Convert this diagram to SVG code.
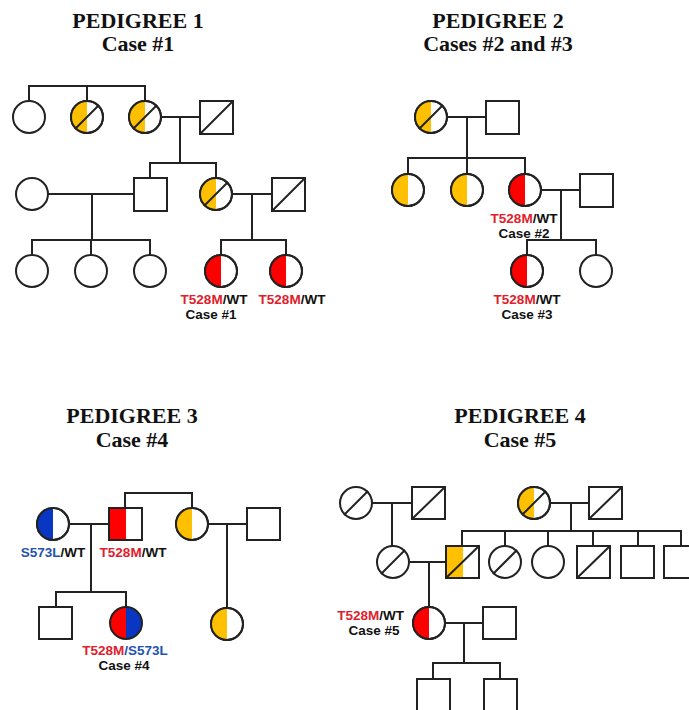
<svg xmlns="http://www.w3.org/2000/svg" width="689" height="710" viewBox="0 0 689 710">
<style>
.bg{fill:#ffffff}
.ln{fill:none;stroke:#222;stroke-width:2}
.sh{fill:#ffffff;stroke:#222;stroke-width:2}
.out{fill:none;stroke:#222;stroke-width:2}
.y{fill:#FFC000}
.r{fill:#FF0000}
.b{fill:#0A36C4}
.title{font-family:"Liberation Serif",serif;font-weight:bold;font-size:22px;fill:#111;text-anchor:middle}
.lab{font-family:"Liberation Sans",Arial,sans-serif;font-weight:bold;font-size:13.5px;fill:#111;text-anchor:middle}
.tr{fill:#E0202C}
.tb{fill:#2452B0}
</style>
<rect class="bg" x="0" y="0" width="689" height="710"/>

<g id="titles">
<text class="title" x="138" y="28">PEDIGREE 1</text>
<text class="title" x="138" y="51">Case #1</text>
<text class="title" x="498" y="28">PEDIGREE 2</text>
<text class="title" x="498" y="51">Cases #2 and #3</text>
<text class="title" x="132" y="423">PEDIGREE 3</text>
<text class="title" x="132" y="447">Case #4</text>
<text class="title" x="520" y="423">PEDIGREE 4</text>
<text class="title" x="520" y="447">Case #5</text>
</g>

<g id="connectors">
<path class="ln" d="M29 101V86H145V101M87 86V101"/>
<path class="ln" d="M161 117H200M180 117V163M150 178V163H216V178"/>
<path class="ln" d="M48 194H134M92 194V240M32 255V240H150V255M91 240V255"/>
<path class="ln" d="M232 194H272M252 194V240M221 255V240H286V255"/>
<path class="ln" d="M447 117H486M467 117V174M408 174V158H525V174"/>
<path class="ln" d="M541 190H580M561 190V240M527 255V240H596V255"/>
<path class="ln" d="M69 524H109M91 524V592M56 607V592H126V607"/>
<path class="ln" d="M125 508V493H192V508"/>
<path class="ln" d="M208 524H247M227 524V608"/>
<path class="ln" d="M372 503H412M392 503V546"/>
<path class="ln" d="M550 503H589M571 503V531M462 546V531H681V546M505 531V546M548 531V546M593 531V546M638 531V546"/>
<path class="ln" d="M409 562H446M429 562V607"/>
<path class="ln" d="M445 623H483M464 623V663M433 679V663H500V679"/>
</g>

<g id="p1-gen1-f1"><circle class="sh" cx="29" cy="117" r="16"/></g>
<g id="p1-gen1-f2"><circle class="sh" cx="87" cy="117" r="16"/><path class="y" d="M87 101A16 16 0 0 0 87 133Z"/><circle class="out" cx="87" cy="117" r="16"/><path class="ln" d="M75 129L99 105"/></g>
<g id="p1-gen1-f3"><circle class="sh" cx="145" cy="117" r="16"/><path class="y" d="M145 101A16 16 0 0 0 145 133Z"/><circle class="out" cx="145" cy="117" r="16"/><path class="ln" d="M133 129L157 105"/></g>
<g id="p1-gen1-m"><rect class="sh" x="200" y="101" width="33" height="33"/><path class="ln" d="M200 134L233 101"/></g>
<g id="p1-gen2-f1"><circle class="sh" cx="32" cy="194" r="16"/></g>
<g id="p1-gen2-m1"><rect class="sh" x="134" y="178" width="33" height="33"/></g>
<g id="p1-gen2-f2"><circle class="sh" cx="216" cy="194" r="16"/><path class="y" d="M216 178A16 16 0 0 0 216 210Z"/><circle class="out" cx="216" cy="194" r="16"/><path class="ln" d="M204 206L228 182"/></g>
<g id="p1-gen2-m2"><rect class="sh" x="272" y="178" width="33" height="33"/><path class="ln" d="M272 211L305 178"/></g>
<g id="p1-gen3-f1"><circle class="sh" cx="32" cy="271" r="16"/></g>
<g id="p1-gen3-f2"><circle class="sh" cx="91" cy="271" r="16"/></g>
<g id="p1-gen3-f3"><circle class="sh" cx="150" cy="271" r="16"/></g>
<g id="p1-gen3-f4"><circle class="sh" cx="221" cy="271" r="16"/><path class="r" d="M221 255A16 16 0 0 0 221 287Z"/><circle class="out" cx="221" cy="271" r="16"/>
<text class="lab" x="214" y="304"><tspan class="tr">T528M</tspan>/WT</text>
<text class="lab" x="211" y="319">Case #1</text></g>
<g id="p1-gen3-f5"><circle class="sh" cx="286" cy="271" r="16"/><path class="r" d="M286 255A16 16 0 0 0 286 287Z"/><circle class="out" cx="286" cy="271" r="16"/>
<text class="lab" x="292" y="304"><tspan class="tr">T528M</tspan>/WT</text></g>

<g id="p2-gen1-f"><circle class="sh" cx="431" cy="117" r="16"/><path class="y" d="M431 101A16 16 0 0 0 431 133Z"/><circle class="out" cx="431" cy="117" r="16"/><path class="ln" d="M419 129L443 105"/></g>
<g id="p2-gen1-m"><rect class="sh" x="486" y="101" width="33" height="33"/></g>
<g id="p2-gen2-f1"><circle class="sh" cx="408" cy="190" r="16"/><path class="y" d="M408 174A16 16 0 0 0 408 206Z"/><circle class="out" cx="408" cy="190" r="16"/></g>
<g id="p2-gen2-f2"><circle class="sh" cx="467" cy="190" r="16"/><path class="y" d="M467 174A16 16 0 0 0 467 206Z"/><circle class="out" cx="467" cy="190" r="16"/></g>
<g id="p2-gen2-f3"><circle class="sh" cx="525" cy="190" r="16"/><path class="r" d="M525 174A16 16 0 0 0 525 206Z"/><circle class="out" cx="525" cy="190" r="16"/>
<text class="lab" x="524" y="223"><tspan class="tr">T528M</tspan>/WT</text>
<text class="lab" x="524" y="238">Case #2</text></g>
<g id="p2-gen2-m"><rect class="sh" x="580" y="174" width="33" height="33"/></g>
<g id="p2-gen3-f1"><circle class="sh" cx="527" cy="271" r="16"/><path class="r" d="M527 255A16 16 0 0 0 527 287Z"/><circle class="out" cx="527" cy="271" r="16"/>
<text class="lab" x="527" y="304"><tspan class="tr">T528M</tspan>/WT</text>
<text class="lab" x="527" y="319">Case #3</text></g>
<g id="p2-gen3-f2"><circle class="sh" cx="596" cy="271" r="16"/></g>

<g id="p3-f1"><circle class="sh" cx="53" cy="524" r="16"/><path class="b" d="M53 508A16 16 0 0 0 53 540Z"/><circle class="out" cx="53" cy="524" r="16"/>
<text class="lab" x="53" y="557"><tspan class="tb">S573L</tspan>/WT</text></g>
<g id="p3-m1"><rect class="sh" x="109" y="508" width="33" height="32"/><rect class="r" x="110" y="509" width="16" height="30"/><rect class="out" x="109" y="508" width="33" height="32"/>
<text class="lab" x="133" y="557"><tspan class="tr">T528M</tspan>/WT</text></g>
<g id="p3-f2"><circle class="sh" cx="192" cy="524" r="16"/><path class="y" d="M192 508A16 16 0 0 0 192 540Z"/><circle class="out" cx="192" cy="524" r="16"/></g>
<g id="p3-m2"><rect class="sh" x="247" y="508" width="33" height="32"/></g>
<g id="p3-c1"><rect class="sh" x="39" y="607" width="33" height="32"/></g>
<g id="p3-c2"><path class="r" d="M126 607A16 16 0 0 0 126 639Z"/><path class="b" d="M126 607A16 16 0 0 1 126 639Z"/><circle class="out" cx="126" cy="623" r="16"/>
<text class="lab" x="125" y="655"><tspan class="tr">T528M</tspan><tspan class="tb">/S573L</tspan></text>
<text class="lab" x="124" y="670">Case #4</text></g>
<g id="p3-c3"><circle class="sh" cx="227" cy="624" r="16"/><path class="y" d="M227 608A16 16 0 0 0 227 640Z"/><circle class="out" cx="227" cy="624" r="16"/></g>

<g id="p4-g1-f1"><circle class="sh" cx="356" cy="503" r="16"/><path class="ln" d="M344 515L368 491"/></g>
<g id="p4-g1-m1"><rect class="sh" x="412" y="487" width="33" height="32"/><path class="ln" d="M412 519L445 487"/></g>
<g id="p4-g1-f2"><circle class="sh" cx="534" cy="503" r="16"/><path class="y" d="M534 487A16 16 0 0 0 534 519Z"/><circle class="out" cx="534" cy="503" r="16"/><path class="ln" d="M522 515L546 491"/></g>
<g id="p4-g1-m2"><rect class="sh" x="589" y="487" width="33" height="32"/><path class="ln" d="M589 519L622 487"/></g>
<g id="p4-g2-f1"><circle class="sh" cx="393" cy="562" r="16"/><path class="ln" d="M381 574L405 550"/></g>
<g id="p4-g2-m1"><rect class="sh" x="446" y="546" width="33" height="32"/><rect class="y" x="447" y="547" width="16" height="30"/><rect class="out" x="446" y="546" width="33" height="32"/><path class="ln" d="M446 578L479 546"/></g>
<g id="p4-g2-f2"><circle class="sh" cx="505" cy="562" r="16"/><path class="ln" d="M493 574L517 550"/></g>
<g id="p4-g2-f3"><circle class="sh" cx="548" cy="562" r="16"/></g>
<g id="p4-g2-m2"><rect class="sh" x="577" y="546" width="33" height="32"/><path class="ln" d="M577 578L610 546"/></g>
<g id="p4-g2-m3"><rect class="sh" x="621" y="546" width="33" height="32"/></g>
<g id="p4-g2-m4"><rect class="sh" x="664" y="546" width="33" height="32"/></g>
<g id="p4-g3-f"><circle class="sh" cx="429" cy="623" r="16"/><path class="r" d="M429 607A16 16 0 0 0 429 639Z"/><circle class="out" cx="429" cy="623" r="16"/>
<text class="lab" x="404" y="620" style="text-anchor:end"><tspan class="tr">T528M</tspan>/WT</text>
<text class="lab" x="374" y="635">Case #5</text></g>
<g id="p4-g3-m"><rect class="sh" x="483" y="607" width="33" height="32"/></g>
<g id="p4-g4-m1"><rect class="sh" x="417" y="679" width="33" height="33"/></g>
<g id="p4-g4-m2"><rect class="sh" x="484" y="679" width="33" height="33"/></g>
</svg>
